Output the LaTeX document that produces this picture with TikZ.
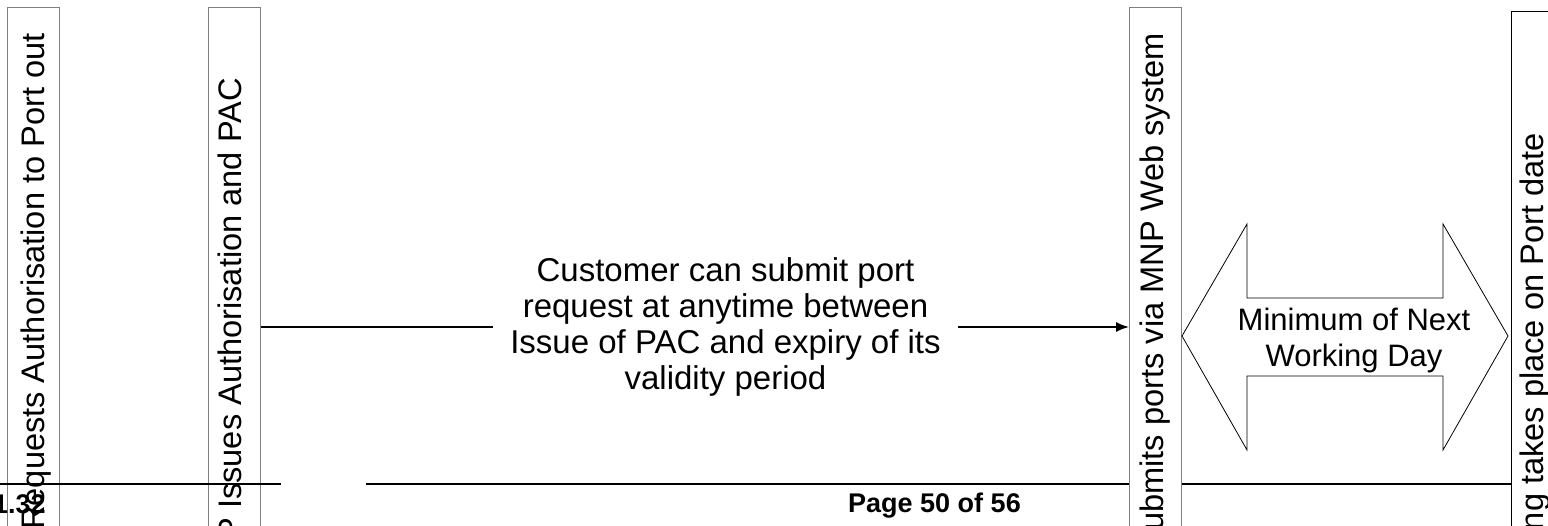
\documentclass[tikz,border=0pt]{standalone}
\usepackage{fontspec}
\setmainfont{Liberation Sans}
\usetikzlibrary{arrows.meta}
\definecolor{lanegray}{RGB}{128,128,128}
\begin{document}
\begin{tikzpicture}[x=1pt,y=-1pt,
  lane/.style={draw=lanegray, line width=1pt, anchor=north west, minimum width=51.5pt, minimum height=700pt, inner sep=0pt},
  lanetext/.style={rotate=90, anchor=base east, inner sep=0pt, font=\fontsize{32.6}{38}\selectfont},
  body/.style={font=\fontsize{33}{36}\selectfont, align=center, inner sep=0pt},
  foot/.style={font=\fontsize{27}{32}\selectfont\bfseries, anchor=base west, inner sep=0pt},
  pagerule/.style={line width=2.5pt},
  conn/.style={line width=1.6pt},
  bigarrow/.style={draw=black, line width=0.8pt, fill=white, line join=miter},
]
\path[use as bounding box, clip] (0,0) rectangle (1548,525);
\fill[white] (0,0) rectangle (1548,525);
% lanes 1 and 2
\node[lane] (b1) at (7,7) {};
\node[lane] (b2) at (208,7) {};
\node[lanetext] (t1) at (44,33) {Requests Authorisation to Port out};
\node[lanetext] (t2) at (241,78) {P Issues Authorisation and PAC};
% footer rule
\draw[pagerule] (0,484) -- (281,484);
\draw[pagerule] (366,484) -- (1548,484);
\node[foot] (pg) at (848,512) {Page 50 of 56};
\node[foot] (ver) at (-7,513) {1.32};
% lanes 3 and 4
\node[lane, fill=white] (b3) at (1129,7) {};
\node[lane, fill=white, draw=black, minimum width=60pt] (b4) at (1511,11) {};
\node[lanetext] (t3) at (1163,33) {ubmits ports via MNP Web system};
\node[lanetext] (t4) at (1543,133) {ing takes place on Port date};
% connector with label
\node[body, minimum width=465pt] (lbl) at (725.5,327) {Customer can submit port\\request at anytime between\\Issue of PAC and expiry of its\\validity period};
\draw[conn] (b2.east |- lbl.west) -- (lbl.west);
\draw[conn, -{Latex[length=13pt,width=10pt]}] (lbl.east) -- (lbl.east -| b3.west);
% double arrow
\draw[bigarrow] (1182,336) -- (1247,224) -- (1247,298) -- (1443,298) -- (1443,224) -- (1508,336) -- (1443,450) -- (1443,376) -- (1247,376) -- (1247,450) -- cycle;
\node[body, font=\fontsize{31}{36}\selectfont] (atxt) at (1354,340) {Minimum of Next\\Working Day};
\end{tikzpicture}
\end{document}
